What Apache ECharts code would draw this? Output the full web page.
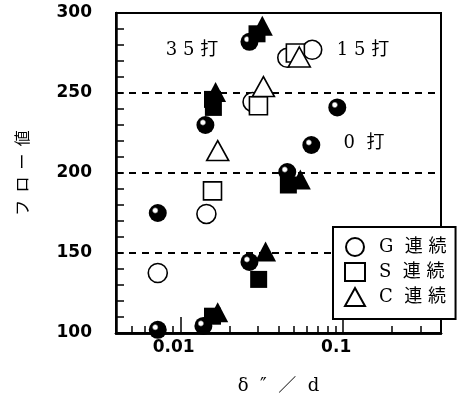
<!DOCTYPE html>
<html>
<head>
<meta charset="utf-8">
<script src="https://cdn.jsdelivr.net/npm/echarts@6/dist/echarts.min.js"></script>
<style>html,body{margin:0;padding:0;background:#fff}#c{width:461px;height:400px}</style>
</head>
<body>
<div id="c"></div>
<script>
// ---- data (x = δ"/d, y = フロー値) ----
const xMinorTicks = [0.005, 0.006, 0.007, 0.008, 0.009, 0.02, 0.03, 0.04, 0.05, 0.06, 0.07, 0.08, 0.09, 0.2, 0.3];
const seriesNames = ['G  連 続', 'S  連 続', 'C  連 続'];
const gOpen = [[0.00723, 137.5], [0.0144, 174.4], [0.0277, 244.4], [0.0453, 272], [0.0645, 277]];
const sOpen = [[0.0157, 188.8], [0.0301, 242], [0.0508, 275]];
const cOpen = [[0.0169, 214], [0.0323, 254], [0.0537, 272.5]];
const gFilled = [[0.00723, 175], [0.0142, 230], [0.0265, 282], [0.092, 241], [0.0637, 217.5], [0.0453, 200.6], [0.0265, 144.4], [0.00723, 102], [0.0138, 104.4]];
const sFilled = [[0.0295, 287], [0.0159, 241], [0.0157, 246], [0.046, 192.5], [0.0302, 133.5], [0.0157, 110.5]];
const cFilled = [[0.0318, 292], [0.0164, 250.6], [0.0545, 196], [0.0333, 151], [0.0169, 113]];
const annotations = [
  { text: '3 5 打', x: 192, y: 50 },
  { text: '1 5 打', x: 363, y: 50 },
  { text: '0  打', x: 364, y: 143 }
];
const xMin = 0.004, xMax = 0.4;

const chart = echarts.init(document.getElementById('c'));
const ballColor = {
  type: 'radial', x: 0.36, y: 0.36, r: 0.62,
  colorStops: [
    { offset: 0, color: '#ffffff' },
    { offset: 0.16, color: '#ffffff' },
    { offset: 0.3, color: '#000000' },
    { offset: 1, color: '#000000' }
  ]
};
const openStyle = { color: '#ffffff', borderColor: '#000', borderWidth: 1.6, opacity: 1 };
const fmt = v => String(+(+v).toPrecision(3));

chart.setOption({
  animation: false,
  backgroundColor: '#fff',
  grid: { left: 116, right: 20, top: 13, bottom: 67, show: true, borderColor: '#000', borderWidth: 2, backgroundColor: 'transparent' },
  legend: {
    orient: 'vertical', left: 333, top: 227,
    padding: [10, 9, 12, 11],
    itemWidth: 20, itemHeight: 18, itemGap: 5,
    backgroundColor: '#fff', borderColor: '#000', borderWidth: 2,
    data: seriesNames,
    textStyle: { fontSize: 18, color: '#000', padding: [0, 0, 0, 9], fontFamily: '"DejaVu Serif", "Noto Sans CJK JP", serif' },
    selectedMode: false
  },
  xAxis: [
    {
      type: 'log', logBase: 10, min: xMin, max: xMax,
      name: 'δ  ″  ／  d', nameLocation: 'middle', nameGap: 44,
      nameTextStyle: { fontSize: 18, color: '#000', fontFamily: '"DejaVu Serif", "Noto Sans CJK JP", serif' },
      axisLine: { lineStyle: { color: '#000', width: 2.5 } },
      axisTick: { inside: true, length: 16, lineStyle: { color: '#000', width: 1.5 } },
      axisLabel: { showMinLabel: false, showMaxLabel: false, formatter: fmt, margin: 6, color: '#000', fontSize: 17, fontWeight: 'bold', fontFamily: '"DejaVu Sans", sans-serif', padding: [0, 14, 0, 0] },
      splitLine: { show: false },
      minorTick: { show: false }
    },
    {
      // same log scale; carries the filled series and draws the minor decade ticks
      type: 'log', logBase: 10, min: xMin, max: xMax, position: 'bottom',
      axisLine: { show: true, lineStyle: { color: '#000', width: 2.5 } },
      axisTick: { show: true, inside: true, length: 7, customValues: xMinorTicks, lineStyle: { color: '#000', width: 1.5 } },
      axisLabel: { show: true, formatter: () => '', color: 'rgba(0,0,0,0)' },
      splitLine: { show: false },
      minorTick: { show: false }
    }
  ],
  yAxis: {
    type: 'value', min: 100, max: 300, interval: 50,
    name: 'フ  ロ  ー  値', nameLocation: 'middle', nameGap: 86, nameRotate: 90,
    nameTextStyle: { fontSize: 16, color: '#000', fontFamily: '"Noto Sans CJK JP", sans-serif' },
    axisLine: { show: true, lineStyle: { color: '#000', width: 2.5 } },
    axisTick: { show: true, inside: true, length: 8, lineStyle: { color: '#000', width: 1.5 } },
    minorTick: { show: true, splitNumber: 5, length: 8, lineStyle: { color: '#000', width: 1.5 } },
    axisLabel: { margin: 24, color: '#000', fontSize: 17, fontWeight: 'bold', fontFamily: '"DejaVu Sans", sans-serif' },
    splitLine: { show: true, lineStyle: { color: '#000', width: 1.8, type: [7, 6] } }
  },
  graphic: annotations.map(a => ({
    type: 'text', x: a.x, y: a.y, z: 100,
    style: { text: a.text, fill: '#000', fontSize: 18, fontFamily: '"DejaVu Serif", "Noto Sans CJK JP", serif', align: 'center', verticalAlign: 'middle' }
  })),
  series: [
    { name: seriesNames[0], type: 'scatter', symbol: 'circle', symbolSize: 19, data: gOpen, itemStyle: openStyle, z: 3 },
    { name: seriesNames[1], type: 'scatter', symbol: 'rect', symbolSize: 18, data: sOpen, itemStyle: openStyle, z: 3 },
    { name: seriesNames[2], type: 'scatter', symbol: 'triangle', symbolSize: [22, 20], data: cOpen, itemStyle: openStyle, z: 3 },
    { name: 'G filled', type: 'scatter', xAxisIndex: 1, symbol: 'circle', symbolSize: 18, data: gFilled, itemStyle: { color: ballColor, opacity: 1 }, z: 4 },
    { name: 'S filled', type: 'scatter', xAxisIndex: 1, symbol: 'rect', symbolSize: 17, data: sFilled, itemStyle: { color: '#000', opacity: 1 }, z: 4 },
    { name: 'C filled', type: 'scatter', xAxisIndex: 1, symbol: 'triangle', symbolSize: [21, 20], data: cFilled, itemStyle: { color: '#000', opacity: 1 }, z: 4 }
  ]
});
</script>
</body>
</html>
